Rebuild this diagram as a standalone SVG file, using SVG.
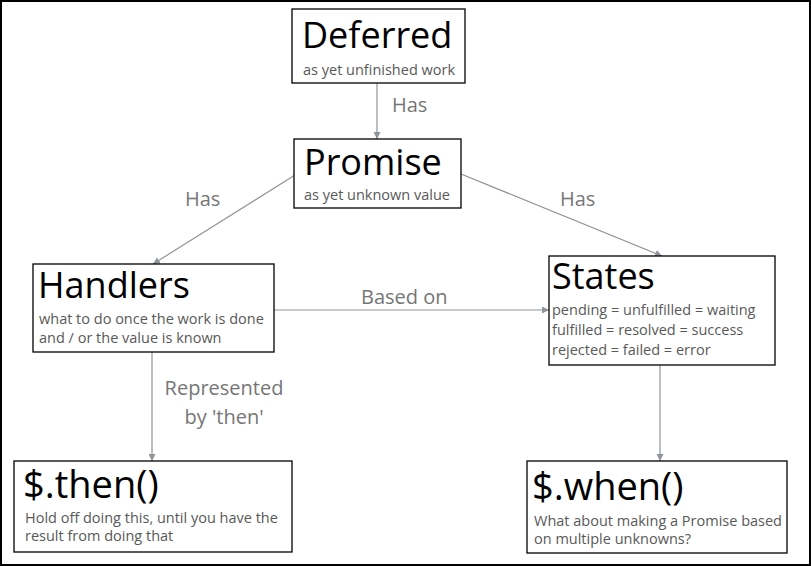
<svg xmlns="http://www.w3.org/2000/svg" width="811" height="566" viewBox="0 0 811 566">
<defs>
<marker id="arr" viewBox="0 0 10 10" refX="10" refY="5" markerWidth="7" markerHeight="7" orient="auto" markerUnits="userSpaceOnUse">
<path d="M0,0 L10,5 L0,10 z" fill="#8e949b"/>
</marker>
<style>
.box{fill:#fff;stroke:#000;stroke-width:1.3}
.title{font-family:"Open Sans","Noto Sans",sans-serif;fill:#000}
.sub{font-family:"Open Sans","Noto Sans",sans-serif;fill:#595959;font-size:14.5px}
.lbl{font-family:"Open Sans","Noto Sans",sans-serif;fill:#767676;font-size:20px}
.conn{stroke:#8e949b;stroke-width:1.2;fill:none;marker-end:url(#arr)}
</style>
</defs>
<rect x="0" y="0" width="811" height="566" fill="#fff"/>
<rect x="1" y="1" width="809" height="564" fill="none" stroke="#000" stroke-width="2"/>
<g id="connectors">
<line class="conn" x1="377" y1="83" x2="377" y2="139"/>
<line class="conn" x1="295" y1="175" x2="153" y2="264"/>
<line class="conn" x1="461" y1="174" x2="662" y2="256"/>
<line class="conn" x1="274" y1="310" x2="549" y2="310"/>
<line class="conn" x1="152" y1="352" x2="152" y2="461"/>
<line class="conn" x1="660" y1="365" x2="660" y2="461"/>
<text class="lbl" x="392" y="112">Has</text>
<text class="lbl" x="185" y="206">Has</text>
<text class="lbl" x="560" y="206">Has</text>
<text class="lbl" x="361" y="304">Based on</text>
<text class="lbl" x="224" y="395" text-anchor="middle">Represented</text>
<text class="lbl" x="224" y="424" text-anchor="middle">by 'then'</text>
</g>
<g id="deferred">
<rect class="box" x="292" y="9" width="173" height="74"/>
<text class="title" x="302" y="48" font-size="36">Deferred</text>
<text class="sub" x="303" y="75">as yet unfinished work</text>
</g>
<g id="promise">
<rect class="box" x="294" y="139" width="167" height="69"/>
<text class="title" x="304" y="175" font-size="36">Promise</text>
<text class="sub" x="304" y="200">as yet unknown value</text>
</g>
<g id="handlers">
<rect class="box" x="33" y="264" width="241" height="88"/>
<text class="title" x="38" y="298" font-size="36">Handlers</text>
<text class="sub" x="39" y="324" font-size="15">what to do once the work is done</text>
<text class="sub" x="39" y="343" font-size="15">and / or the value is known</text>
</g>
<g id="states">
<rect class="box" x="549" y="256" width="226" height="109"/>
<text class="title" x="552" y="289" font-size="36">States</text>
<text class="sub" x="552" y="315" font-size="15">pending = unfulfilled = waiting</text>
<text class="sub" x="552" y="335" font-size="15">fulfilled = resolved = success</text>
<text class="sub" x="552" y="355" font-size="15">rejected = failed = error</text>
</g>
<g id="then">
<rect class="box" x="14" y="461" width="278" height="91"/>
<text class="title" x="23" y="498" font-size="38">$.then()</text>
<text class="sub" x="25" y="523">Hold off doing this, until you have the</text>
<text class="sub" x="25" y="541">result from doing that</text>
</g>
<g id="when">
<rect class="box" x="527" y="461" width="260" height="92"/>
<text class="title" x="532" y="500" font-size="38">$.when()</text>
<text class="sub" x="534" y="526">What about making a Promise based</text>
<text class="sub" x="534" y="544">on multiple unknowns?</text>
</g>
</svg>
